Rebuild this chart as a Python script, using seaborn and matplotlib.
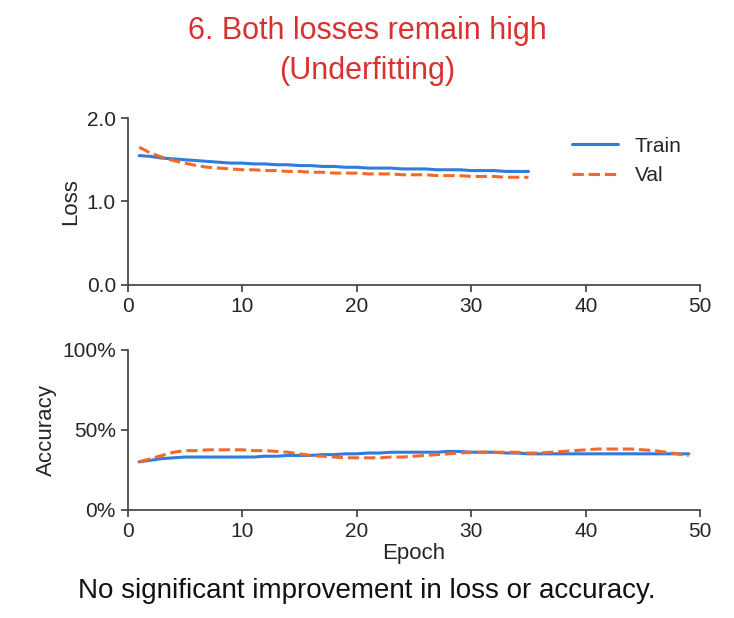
import matplotlib
matplotlib.use("Agg")
import matplotlib.pyplot as plt
import numpy as np
import pandas as pd
import seaborn as sns
from matplotlib.ticker import PercentFormatter

loss_epochs = list(range(1, 36))
train_loss = [1.55, 1.54, 1.52, 1.51, 1.50, 1.49, 1.48, 1.47, 1.46, 1.46, 1.45, 1.45, 1.44, 1.44, 1.43, 1.43,
              1.42, 1.42, 1.41, 1.41, 1.40, 1.40, 1.40, 1.39, 1.39, 1.39, 1.38, 1.38, 1.38, 1.37, 1.37, 1.37,
              1.36, 1.36, 1.36]
val_loss = [1.65, 1.58, 1.53, 1.49, 1.46, 1.43, 1.41, 1.40, 1.39, 1.38, 1.38, 1.37, 1.37, 1.36, 1.36, 1.35,
            1.35, 1.34, 1.34, 1.34, 1.33, 1.33, 1.33, 1.32, 1.32, 1.32, 1.31, 1.31, 1.31, 1.30, 1.30, 1.30,
            1.29, 1.29, 1.29]

acc_epochs = list(range(1, 50))
train_acc = [30, 31, 32, 32.5, 33, 33, 33, 33, 33, 33, 33, 33.5, 33.5, 34, 34, 34, 34.5, 34.5, 35, 35, 35.5,
             35.5, 36, 36, 36, 36, 36, 36.5, 36.5, 36, 36, 36, 35.5, 35.5, 35, 35, 35, 35, 35, 35, 35, 35,
             35, 35, 35, 35, 35, 35, 35]
val_acc = [30, 32, 34, 36, 37, 37, 37.5, 37.5, 37.5, 37.5, 37, 37, 36.5, 36, 35, 34, 33.5, 33, 32.5, 32.5,
           32.5, 32.5, 33, 33, 33.5, 34, 34.5, 35, 35.5, 36, 36, 36, 36, 36, 35.5, 35.5, 36, 36.5, 37, 37.5,
           38, 38, 38, 38, 37.5, 37, 36, 35, 34]

blue = "#2f7be0"
orange = "#f26a2a"

sns.set_theme(style="ticks")
plt.rcParams["font.family"] = ["Liberation Sans", "DejaVu Sans"]

fig = plt.figure(figsize=(7.34, 6.18), dpi=100)
ax1 = fig.add_axes([0.174, 0.539, 0.78, 0.27])
ax2 = fig.add_axes([0.174, 0.175, 0.78, 0.259])

loss_df = pd.DataFrame({"Epoch": loss_epochs, "Train": train_loss, "Val": val_loss})
sns.lineplot(data=loss_df, x="Epoch", y="Train", ax=ax1, color=blue, lw=2.2, label="Train")
sns.lineplot(data=loss_df, x="Epoch", y="Val", ax=ax1, color=orange, lw=2.2, ls="--", label="Val")
ax1.set_ylim(0, 2.0)
ax1.set_yticks([0, 1.0, 2.0])
ax1.set_yticklabels(["0.0", "1.0", "2.0"])
ax1.set_ylabel("Loss", fontsize=16, labelpad=4)
ax1.set_xlabel("")
ax1.legend(frameon=False, fontsize=15, loc="upper right", handlelength=2.2)

acc_df = pd.DataFrame({"Epoch": acc_epochs, "Train": train_acc, "Val": val_acc})
sns.lineplot(data=acc_df, x="Epoch", y="Train", ax=ax2, color=blue, lw=2.2)
sns.lineplot(data=acc_df, x="Epoch", y="Val", ax=ax2, color=orange, lw=2.2, ls="--")
ax2.set_ylim(0, 100)
ax2.set_yticks([0, 50, 100])
ax2.yaxis.set_major_formatter(PercentFormatter(decimals=0))
ax2.set_ylabel("Accuracy", fontsize=16, labelpad=4)
ax2.set_xlabel("Epoch", fontsize=16, labelpad=2)

for ax in (ax1, ax2):
    ax.set_xlim(0, 50)
    ax.set_xticks([0, 10, 20, 30, 40, 50])
    ax.tick_params(labelsize=15, length=5, color="#444444")
    sns.despine(ax=ax)
    for s in ("left", "bottom"):
        ax.spines[s].set_color("#444444")

fig.text(0.5, 0.917, "6. Both losses remain high\n(Underfitting)", ha="center", va="center",
         fontsize=22, color="#d9322e", linespacing=1.45)
fig.text(0.5, 0.022, "No significant improvement in loss or accuracy.", ha="center", va="bottom",
         fontsize=20, color="#111111")

fig.savefig("out.png", dpi=100)
